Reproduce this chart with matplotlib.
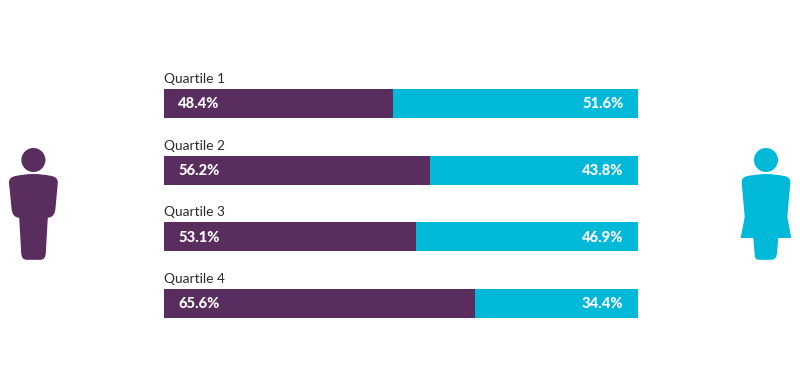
import matplotlib
matplotlib.use("Agg")
import matplotlib.pyplot as plt
from matplotlib.path import Path
from matplotlib.patches import PathPatch, Circle

plt.rcParams['font.family'] = ['Lato', 'DejaVu Sans']

quartiles = ["Quartile 1", "Quartile 2", "Quartile 3", "Quartile 4"]
men = [48.4, 56.2, 53.1, 65.6]
women = [51.6, 43.8, 46.9, 34.4]

PURPLE = "#5a2d5f"
CYAN = "#00b9d9"
W, H = 800, 381

fig = plt.figure(figsize=(W / 100, H / 100), dpi=100, facecolor="white")

# Bars: category spacing 66.67 px, bar height 29 px
top, bottom = 70.17, 336.83
ax = fig.add_axes([164 / W, 1 - bottom / H, (638 - 164) / W, (bottom - top) / H])
ax.set_xlim(0, 100)
ax.set_ylim(3.5, -0.5)
ax.axis("off")
ys = range(len(quartiles))
ax.barh(ys, men, height=0.435, color=PURPLE, linewidth=0)
ax.barh(ys, women, left=men, height=0.435, color=CYAN, linewidth=0)
for y, q, m, f in zip(ys, quartiles, men, women):
    ax.annotate(q, (0, y), xytext=(0, 13.2), textcoords="offset points",
                fontsize=9.9, color="#2b2b2b", va="bottom", ha="left", annotation_clip=False)
    ax.annotate(f"{m}%", (0, y), xytext=(10.3, -0.5), textcoords="offset points",
                fontsize=10.6, fontweight="black", color="white", va="center", ha="left")
    ax.annotate(f"{f}%", (100, y), xytext=(-10.5, -0.5), textcoords="offset points",
                fontsize=10.6, fontweight="black", color="white", va="center", ha="right")

# Overlay in pixel coordinates for the two pictograms
ov = fig.add_axes([0, 0, 1, 1], facecolor="none")
ov.set_xlim(0, W)
ov.set_ylim(H, 0)
ov.axis("off")

def icon(cmds, color):
    verts = [p for _, p in cmds]
    codes = [c for c, _ in cmds]
    ov.add_patch(PathPatch(Path(verts, codes), facecolor=color, edgecolor="none"))

M, L, C = Path.MOVETO, Path.LINETO, Path.CURVE4
man = [
    (M, (33.4, 174)), (C, (40, 174)), (C, (46, 175)), (C, (50, 175.7)),
    (C, (55, 176.5)), (C, (58, 178)), (C, (57.8, 183)),
    (L, (55.5, 208)), (C, (55, 214)), (C, (53, 217.5)), (C, (47.8, 217.7)),
    (L, (45.8, 253)), (C, (45.5, 257.5)), (C, (44, 259.8)), (C, (40, 259.8)),
    (L, (27, 259.8)), (C, (23, 259.8)), (C, (21.5, 257.5)), (C, (21.2, 253)),
    (L, (19.2, 217.7)), (C, (14, 217.5)), (C, (12, 214)), (C, (11.5, 208)),
    (L, (9, 183)), (C, (8.8, 178)), (C, (12, 176.5)), (C, (17, 175.7)),
    (C, (21, 175)), (C, (27, 174)), (C, (33.4, 174)),
]
woman = [
    (M, (766, 174)), (C, (772, 174)), (C, (778, 175)), (C, (783, 175.7)),
    (C, (788, 176.5)), (C, (790.5, 178)), (C, (790.3, 183)),
    (L, (787.3, 217)), (L, (791.3, 238)), (L, (778.3, 238)),
    (L, (777, 253)), (C, (776.5, 257.5)), (C, (775, 259.8)), (C, (771, 259.8)),
    (L, (759, 259.8)), (C, (755.5, 259.8)), (C, (754.8, 257.5)), (C, (754.5, 253)),
    (L, (753.3, 238)), (L, (740.7, 238)), (L, (744.7, 217)),
    (L, (741.7, 183)), (C, (741.5, 178)), (C, (744, 176.5)), (C, (749, 175.7)),
    (C, (754, 175)), (C, (760, 174)), (C, (766, 174)),
]
icon(man, PURPLE)
icon(woman, CYAN)
ov.add_patch(Circle((33.4, 160), 12, facecolor=PURPLE, edgecolor="none"))
ov.add_patch(Circle((766, 160), 12, facecolor=CYAN, edgecolor="none"))

fig.savefig("out.png", dpi=100)
